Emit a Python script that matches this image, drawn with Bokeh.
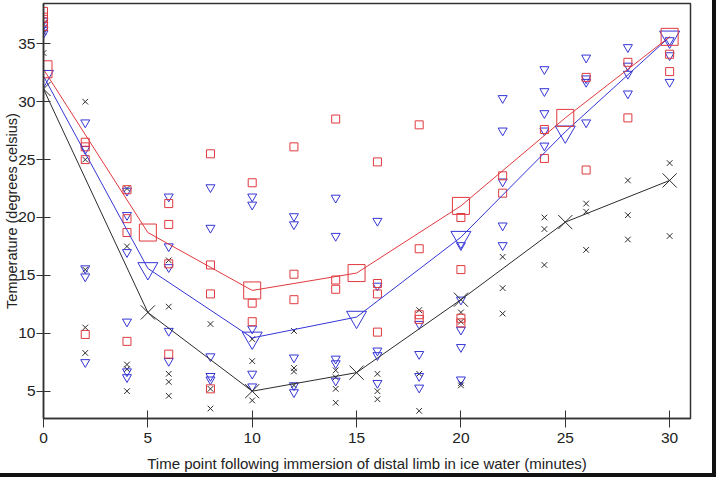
from bokeh.plotting import figure
from bokeh.models import Range1d, FixedTicker
from bokeh.embed import file_html
from bokeh.resources import INLINE

# Sampling times (minutes) for individual measurements
sample_times = [0, 2, 4, 6, 8, 10, 12, 14, 16, 18, 20, 22, 24, 26, 28, 30]

# Individual temperatures per sampling time (degrees celsius)
red_samples = [
    [37.8, 37.3, 36.9, 36.5],
    [26.5, 26.1, 25.0, 9.9],
    [22.4, 19.9, 18.7, 9.3],
    [21.2, 19.4, 16.0, 8.2],
    [25.5, 15.9, 13.4, 5.2],
    [23.0, 12.6, 11.0],
    [26.1, 15.1, 12.9],
    [28.5, 14.6, 13.8],
    [24.8, 14.3, 13.4, 10.1],
    [28.0, 17.3, 11.6, 11.2],
    [20.0, 15.5, 11.3, 10.9],
    [23.6, 22.1],
    [27.6, 25.1],
    [32.1, 24.1],
    [33.4, 28.6],
    [34.1, 32.6],
]
blue_samples = [
    [37.0, 36.6, 36.2, 35.9],
    [28.2, 25.9, 15.6, 14.9, 7.5],
    [22.3, 20.2, 17.0, 11.0, 6.7, 6.2],
    [21.8, 17.5, 15.7, 10.2, 7.6],
    [22.6, 19.1, 8.0, 6.3, 6.0],
    [21.8, 21.1, 10.4, 6.5, 5.4],
    [20.1, 19.4, 7.9, 5.5, 4.9],
    [21.7, 18.4, 7.8, 7.4, 5.9],
    [19.7, 14.1, 8.5, 8.1, 5.7],
    [10.8, 8.2, 6.3, 5.3],
    [17.6, 12.9, 10.3, 8.8, 6.0],
    [30.3, 27.5, 23.1, 19.3, 17.6],
    [32.8, 30.9, 29.0, 27.5, 26.2],
    [33.8, 32.0, 31.7, 28.2],
    [34.7, 33.1, 32.4, 30.7],
    [35.3, 34.0, 31.7],
]
black_samples = [
    [36.0, 34.2],
    [30.0, 25.0, 15.5, 10.5, 8.3],
    [22.5, 17.5, 7.3, 6.9, 5.0],
    [16.3, 12.3, 6.5, 5.8, 4.6],
    [10.8, 5.2, 3.5],
    [9.5, 7.6, 4.2],
    [10.2, 7.0, 6.7, 5.5],
    [6.8, 6.2, 5.2, 4.0],
    [6.5, 5.0, 4.3],
    [12.0, 6.5, 3.3],
    [11.8, 11.0, 5.7, 5.5],
    [16.6, 13.9, 11.7],
    [20.0, 19.0, 15.9],
    [21.2, 20.5, 17.2],
    [23.2, 20.2, 18.1],
    [24.7, 18.4],
]

# Group means
mean_times = [0, 5, 10, 15, 20, 25, 30]
red_mean = [32.8, 18.7, 13.7, 15.2, 21.0, 28.6, 35.6]
blue_mean = [32.2, 15.6, 9.6, 11.4, 18.3, 27.4, 35.6]
black_mean = [31.1, 11.8, 5.0, 6.6, 12.9, 19.6, 23.2]

x_ticks = [0, 5, 10, 15, 20, 25, 30]
y_ticks = [5, 10, 15, 20, 25, 30, 35]

RED = "#e0393e"
BLUE = "#3535d6"
BLACK = "#2b2b2b"


def flatten(times, groups):
    xs, ys = [], []
    for t, g in zip(times, groups):
        for v in g:
            xs.append(t)
            ys.append(v)
    return xs, ys


p = figure(width=716, height=477, output_backend="svg", toolbar_location=None,
           x_range=Range1d(0, 31.0), y_range=Range1d(2.64, 38.48),
           min_border_left=43, min_border_right=26, min_border_top=3, min_border_bottom=59)
p.styles = {"border-right": "4px solid #111", "border-bottom": "4px solid #111"}

p.xgrid.visible = False
p.ygrid.visible = False
p.background_fill_color = "white"
p.border_fill_color = "white"
p.outline_line_color = "#333333"
p.outline_line_width = 1.5

for ax in (p.xaxis, p.yaxis):
    ax.axis_line_color = "#333333"
    ax.axis_line_width = 1.5
    ax.major_tick_line_color = "#333333"
    ax.minor_tick_line_color = None
    ax.major_label_text_font = "Liberation Sans"
    ax.major_label_text_font_size = "15.5px"
    ax.major_label_text_color = "#222222"
    ax.axis_label_text_font = "Liberation Sans"
    ax.axis_label_text_font_style = "normal"
    ax.axis_label_text_color = "#222222"

p.xaxis.ticker = FixedTicker(ticks=x_ticks)
p.yaxis.ticker = FixedTicker(ticks=y_ticks)
p.xaxis.major_tick_in = 8
p.xaxis.major_tick_out = 9
p.yaxis.major_tick_in = 7
p.yaxis.major_tick_out = 7
p.xaxis.major_label_standoff = 5
p.yaxis.major_label_standoff = 1
p.xaxis.axis_label = "Time point following immersion of distal limb in ice water (minutes)"
p.yaxis.axis_label = "Temperature (degrees celsius)"
p.xaxis.axis_label_text_font_size = "15px"
p.yaxis.axis_label_text_font_size = "14.5px"
p.xaxis.axis_label_standoff = 9
p.yaxis.axis_label_standoff = -5

# individual measurements
rx, ry = flatten(sample_times, red_samples)
bx, by = flatten(sample_times, blue_samples)
kx, ky = flatten(sample_times, black_samples)
p.scatter(kx, ky, marker="x", size=8, line_color=BLACK, line_width=1)
p.scatter(bx, by, marker="inverted_triangle", size=9, line_color=BLUE, fill_color=None, line_width=1)
p.scatter(rx, ry, marker="square", size=8, line_color=RED, fill_color=None, line_width=1)

# means
p.line(mean_times, black_mean, line_color=BLACK, line_width=1)
p.line(mean_times, blue_mean, line_color=BLUE, line_width=1)
p.line(mean_times, red_mean, line_color=RED, line_width=1)
p.scatter(mean_times, black_mean, marker="x", size=20, line_color=BLACK, line_width=1)
p.scatter(mean_times, blue_mean, marker="inverted_triangle", size=20, line_color=BLUE, fill_color=None, line_width=1)
p.scatter(mean_times, red_mean, marker="square", size=17, line_color=RED, fill_color=None, line_width=1)

open("out.html", "w").write(file_html(p, INLINE))
